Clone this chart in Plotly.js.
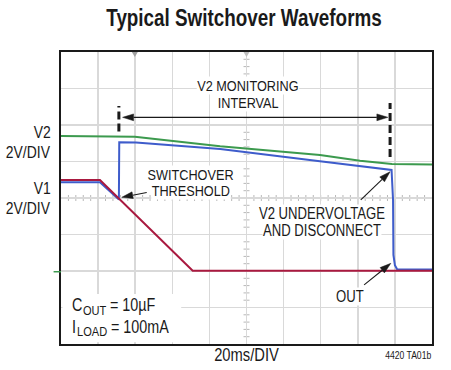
<!DOCTYPE html>
<html>
<head>
<meta charset="utf-8">
<script src="https://cdn.plot.ly/plotly-3.0.1.min.js"></script>
<style>html,body{margin:0;padding:0;background:#fff;}#chart{width:451px;height:370px;}</style>
</head>
<body>
<div id="chart"></div>
<script>
// ---- data (scope divisions: x 0..10, y 0..8) ----
const v2X = [0, 1.99, 4.29, 6.98, 8.06, 8.92, 10];
const v2Y = [5.70, 5.68, 5.42, 5.18, 5.02, 4.93, 4.92];
const outX = [0, 1.05, 1.56, 1.57, 2.02, 4.29, 6.98, 8.91, 8.95, 8.96, 9.00, 9.06, 10];
const outY = [4.43, 4.43, 3.96, 5.53, 5.52, 5.34, 5.01, 4.77, 3.95, 2.44, 2.16, 2.05, 2.04];
const v1X = [0, 1.05, 3.55, 10];
const v1Y = [4.49, 4.49, 2.01, 2.01];
const chartTitle = 'Typical Switchover Waveforms';
const xLabel = '20ms/DIV';
const noteText = '4420 TA01b';
const coutParts = ['C', 'OUT', '= 10µF'];
const iloadParts = ['I', 'LOAD', '= 100mA'];

// ---- font detection ----
const cv = document.createElement('canvas').getContext('2d');
function hasFont(name){
  const t = 'mmmmmmmmmmlliWWW 0123';
  cv.font = '40px monospace'; const a = cv.measureText(t).width;
  cv.font = '40px "' + name + '", monospace'; const b = cv.measureText(t).width;
  return Math.abs(a - b) > 0.5;
}
const narrow = hasFont('Liberation Sans Narrow');
const F = narrow ? '"Liberation Sans Narrow", "Liberation Sans", Arial, sans-serif' : '"Liberation Sans", Arial, sans-serif';
const SQUEEZE = narrow ? 1 : 0.82;   // horizontal condensing when no narrow face exists
function measure(s, size){ cv.font = size + 'px ' + F; return cv.measureText(s).width * SQUEEZE; }

const GREEN = '#3c9a4e', BLUE = '#3e5ccb', RED = '#a9193f', INK = '#1a1a1a', GRID = '#d9d9d9';

const traces = [
  {x: v2X, y: v2Y, mode: 'lines', line: {color: GREEN, width: 2}, hoverinfo: 'skip', showlegend: false},
  {x: outX, y: outY, mode: 'lines', line: {color: BLUE, width: 2}, hoverinfo: 'skip', showlegend: false},
  {x: v1X, y: v1Y, mode: 'lines', line: {color: RED, width: 2}, hoverinfo: 'skip', showlegend: false}
];

const mainAx = {showgrid: true, gridcolor: GRID, gridwidth: 1.5, zeroline: false, showline: true, mirror: true,
  linecolor: INK, linewidth: 2, ticks: '', showticklabels: false, fixedrange: true, dtick: 1, tick0: 0};

const txt = size => ({family: F, size: size, color: INK});
function label(text, x, y, opts){
  return Object.assign({text: text, x: x, y: y, xref: 'x', yref: 'y', showarrow: false,
    font: txt(16), bgcolor: '#ffffff', borderpad: 0, xanchor: 'center', yanchor: 'middle'}, opts || {});
}
const side = {xref: 'paper', xanchor: 'right', xshift: -9, font: txt(17), bgcolor: 'rgba(0,0,0,0)'};
const clear = 'rgba(0,0,0,0)';

// text with a subscript, built from plain pieces placed side by side
function subscripted(parts, x, y){
  const big = 17.5, small = 13.5;
  const w0 = measure(parts[0], big), w1 = measure(parts[1], small), sp = measure(' ', big);
  return [
    label(parts[0], x, y, {xanchor: 'left', font: txt(big), bgcolor: clear}),
    label(parts[1], x, y, {xanchor: 'left', font: txt(small), bgcolor: clear, xshift: w0 + 0.5, yshift: -4.9}),
    label(parts[2], x, y, {xanchor: 'left', font: txt(big), bgcolor: clear, xshift: w0 + 0.5 + w1 + sp})
  ];
}

const annotations = [
  label('V2 MONITORING', 5.04, 7.08, {font: txt(15.5)}),
  label('INTERVAL', 5.05, 6.63, {font: txt(15.5)}),
  label('SWITCHOVER', 3.48, 4.65, {font: txt(15.5)}),
  label('THRESHOLD', 3.50, 4.20, {font: txt(15.5)}),
  label('V2 UNDERVOLTAGE', 7.04, 3.58),
  label('AND DISCONNECT', 7.04, 3.11),
  label('OUT', 7.79, 1.30),
  label('V2', 0, 5.79, side),
  label('2V/DIV', 0, 5.24, side),
  label('V1', 0, 4.25, side),
  label('2V/DIV', 0, 3.71, side),
  label(xLabel, 0.5, -0.0377, {xref: 'paper', yref: 'paper', font: txt(18), bgcolor: clear}),
  label(noteText, 1, -0.0377, {xref: 'paper', yref: 'paper', xanchor: 'right', font: txt(10.5), bgcolor: clear})
].concat(subscripted(coutParts, 0.27, 1.06), subscripted(iloadParts, 0.27, 0.47));

// ---- arrows as shapes (line + filled head), positions in divisions ----
const PX = 371 / 10, PY = 292 / 8;   // pixels per division
function head(hx, hy, tx, ty){
  const dx = (hx - tx) * PX, dy = (hy - ty) * PY;
  const len = Math.hypot(dx, dy), ux = dx / len, uy = dy / len;
  const L = 11, W = 3.4;
  const bx = hx * PX - ux * L, by = hy * PY - uy * L;
  const p1 = [(bx - uy * W) / PX, (by + ux * W) / PY];
  const p2 = [(bx + uy * W) / PX, (by - ux * W) / PY];
  const base = [bx / PX, by / PY];
  return {
    tri: {type: 'path', xref: 'x', yref: 'y', path: 'M ' + hx + ',' + hy + ' L ' + p1[0] + ',' + p1[1] + ' L ' + p2[0] + ',' + p2[1] + ' Z',
      fillcolor: INK, line: {color: INK, width: 0.5}},
    base: base
  };
}
function arrowShapes(hx, hy, tx, ty, both){
  const h1 = head(hx, hy, tx, ty);
  let start = [tx, ty];
  const out = [h1.tri];
  if (both) { const h2 = head(tx, ty, hx, hy); out.push(h2.tri); start = h2.base; }
  out.push({type: 'line', xref: 'x', yref: 'y', x0: start[0], y0: start[1], x1: h1.base[0], y1: h1.base[1],
    line: {color: INK, width: 1.1}});
  return out;
}

// ---- graticule minor ticks on the centre cross (every 1/5 division) ----
function graticule(){
  let p = '';
  const hx = 3 / PX, hy = 3 / PY;
  for (let i = 1; i < 50; i++) { const x = i / 5; p += 'M ' + x + ',' + (4 - hy) + ' L ' + x + ',' + (4 + hy) + ' '; }
  for (let j = 1; j < 40; j++) { const y = j / 5; p += 'M ' + (5 - hx) + ',' + y + ' L ' + (5 + hx) + ',' + y + ' '; }
  return {type: 'path', xref: 'x', yref: 'y', path: p, layer: 'below', line: {color: '#b8b8b8', width: 1}};
}

const shapes = [
  graticule(),
  // blank panel behind the component notes
  {type: 'rect', xref: 'x', yref: 'y', x0: 0.04, x1: 3.24, y0: 0.045, y1: 1.37, fillcolor: '#ffffff', line: {width: 0}, layer: 'above'},
  {type: 'line', xref: 'x', yref: 'y', x0: 1.56, x1: 1.56, y0: 5.82, y1: 6.52, line: {color: INK, width: 3, dash: '8px,4px'}},
  {type: 'line', xref: 'x', yref: 'y', x0: 8.87, x1: 8.87, y0: 5.12, y1: 6.60, line: {color: INK, width: 3, dash: '8px,4px'}},
  {type: 'line', xref: 'paper', yref: 'y', x0: -0.02, x1: 0, y0: 1.98, y1: 1.98, line: {color: GREEN, width: 1.5}},
  {type: 'path', xref: 'x', yref: 'y', path: 'M 1.91,8 L 2.07,8 L 1.99,7.86 Z', fillcolor: '#a0a0a0', line: {width: 0}},
  {type: 'path', xref: 'x', yref: 'y', path: 'M 4.92,8 L 5.08,8 L 5.0,7.86 Z', fillcolor: '#c0c0c0', line: {width: 0}}
].concat(
  arrowShapes(8.81, 6.21, 1.66, 6.21, true),
  arrowShapes(1.64, 4.02, 2.31, 4.15),
  arrowShapes(8.87, 4.72, 8.08, 3.95),
  arrowShapes(8.89, 2.21, 8.17, 1.62)
);

const layout = {
  width: 451, height: 370,
  margin: {l: 61, r: 19, t: 52, b: 26, pad: 0},
  paper_bgcolor: '#ffffff', plot_bgcolor: '#ffffff',
  font: {family: F, color: INK},
  title: {text: '<b>' + chartTitle + '</b>', xref: 'container', x: 244 / 451, xanchor: 'center',
    yref: 'container', y: 1 - 18 / 370, yanchor: 'middle', font: {family: F, size: 23, color: INK}},
  xaxis: Object.assign({range: [0, 10]}, mainAx),
  yaxis: Object.assign({range: [0, 8]}, mainAx),
  annotations: annotations,
  shapes: shapes,
  showlegend: false
};

function condense(){
  if (SQUEEZE === 1) return;
  const origin = {left: 'left center', right: 'right center', center: 'center center'};
  const shift = {left: 0, right: 1, center: 0.5};
  document.querySelectorAll('#chart g.annotation').forEach(g => {
    const i = +g.getAttribute('data-index');
    const a = annotations[i];
    if (!a || !a.text) return;
    const anc = a.xanchor || 'center';
    const t = g.querySelector('text.annotation-text');
    if (t) {
      t.style.transformBox = 'fill-box';
      t.style.transformOrigin = origin[anc];
      t.style.transform = 'scaleX(' + SQUEEZE + ')';
    }
    const r = g.querySelector('rect.bg');
    if (r) {
      const w = +r.getAttribute('width'), x = +(r.getAttribute('x') || 0);
      r.setAttribute('width', w * SQUEEZE);
      r.setAttribute('x', x + w * (1 - SQUEEZE) * shift[anc]);
    }
  });
  const tt = document.querySelector('#chart text.gtitle');
  if (tt) {
    tt.style.transformBox = 'fill-box';
    tt.style.transformOrigin = 'center center';
    tt.style.transform = 'scaleX(' + SQUEEZE + ')';
  }
}

Plotly.newPlot('chart', traces, layout, {staticPlot: true, displayModeBar: false}).then(condense);
</script>
</body>
</html>
